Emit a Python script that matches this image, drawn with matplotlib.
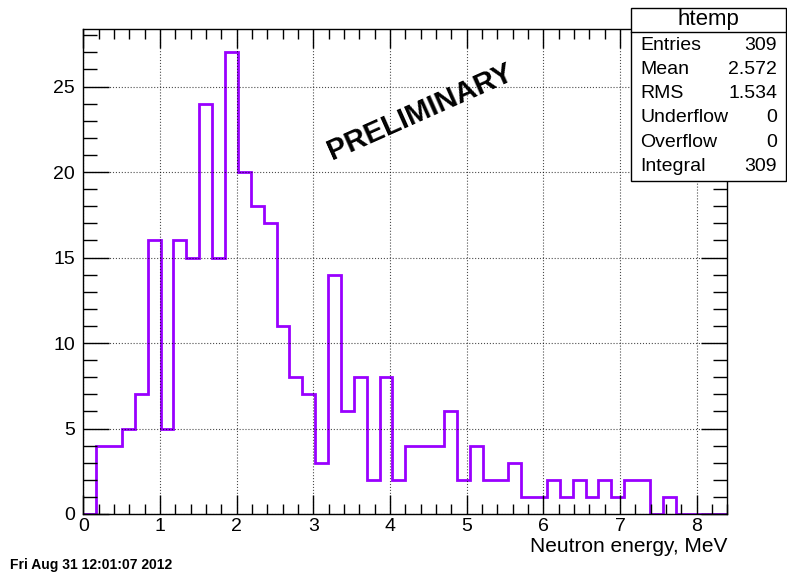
import numpy as np
import matplotlib
matplotlib.use('Agg')
import matplotlib.pyplot as plt
from matplotlib.patches import Rectangle
from matplotlib.ticker import MultipleLocator

plt.rcParams['font.family'] = ['Liberation Sans', 'DejaVu Sans']

# histogram: 50 bins over 0 .. 8.4 MeV
x_min, x_max, n_bins = 0.0, 8.4, 50
counts = [0, 4, 4, 5, 7, 16, 5, 16, 15, 24,
          15, 27, 20, 18, 17, 11, 8, 7, 3, 14,
          6, 8, 2, 8, 2, 4, 4, 4, 6, 2,
          4, 2, 2, 3, 1, 1, 2, 1, 2, 1,
          2, 1, 2, 2, 0, 1, 0, 0, 0, 0]

stat_names = ['Entries', 'Mean', 'RMS', 'Underflow', 'Overflow', 'Integral']
stat_values = ['309', '2.572', '1.534', '0', '0', '309']

edges = np.linspace(x_min, x_max, n_bins + 1)

W, H = 787, 577
fig = plt.figure(figsize=(W / 100, H / 100), dpi=100)
ax = fig.add_axes([83.3 / W, 1 - 514 / H, (727.3 - 83.3) / W, (514 - 29.3) / H])

ax.stairs(counts, edges, color='#9900ff', lw=2, baseline=0)

ax.set_xlim(x_min, x_max)
ax.set_ylim(0, max(counts) * 1.05)
ax.xaxis.set_major_locator(MultipleLocator(1))
ax.xaxis.set_minor_locator(MultipleLocator(0.2))
ax.yaxis.set_major_locator(MultipleLocator(5))
ax.yaxis.set_minor_locator(MultipleLocator(1))
ax.tick_params(which='both', direction='in', top=True, right=True, labelsize=14, width=1)
ax.tick_params(which='major', length=14)
ax.tick_params(which='minor', length=7)
ax.tick_params(axis='y', which='major', length=19, pad=6)
ax.tick_params(axis='y', which='minor', length=10)
ax.tick_params(axis='x', pad=3)
ax.grid(True, which='major', linestyle=':', color='black', lw=0.8, alpha=0.7)
for s in ax.spines.values():
    s.set_linewidth(1)

ax.set_xlabel('Neutron energy, MeV', fontsize=15, loc='right', labelpad=1)

ax.text(0.523, 0.83, 'PRELIMINARY', transform=ax.transAxes, rotation=24,
        fontsize=21, fontweight='bold', ha='center', va='center')

# stats box
bx0, by0, bx1, by1 = 631, 8, 786, 181
fig.patches.append(Rectangle((bx0 / W, 1 - by1 / H), (bx1 - bx0) / W, (by1 - by0) / H,
                             transform=fig.transFigure, facecolor='white',
                             edgecolor='black', lw=1, zorder=5))
fig.lines.append(plt.Line2D([bx0 / W, bx1 / W], [1 - 31.5 / H] * 2,
                            transform=fig.transFigure, color='black', lw=1, zorder=6))
fig.text((bx0 + bx1) / 2 / W, 1 - 19 / H, 'htemp', fontsize=16, ha='center', va='center', zorder=7)
for i, (n, v) in enumerate(zip(stat_names, stat_values)):
    y = 1 - (45 + i * 24.3) / H
    fig.text(640 / W, y, n, fontsize=14, ha='left', va='center', zorder=7)
    fig.text(777 / W, y, v, fontsize=14, ha='right', va='center', zorder=7)

fig.text(10 / W, 1 - 565 / H, 'Fri Aug 31 12:01:07 2012', fontsize=10, fontweight='bold',
         ha='left', va='center')

fig.savefig('out.png', dpi=100)
